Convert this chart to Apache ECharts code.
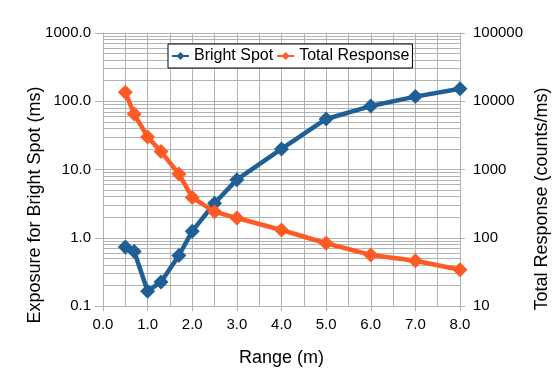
<!DOCTYPE html>
<html>
<head>
<meta charset="utf-8">
<script src="https://cdn.jsdelivr.net/npm/echarts@6/dist/echarts.min.js"></script>
<style>html,body{margin:0;padding:0;background:#fff;}#c{width:557px;height:382px;}</style>
</head>
<body>
<div id="c"></div>
<script>
const rangeM = [0.5, 0.7, 1.0, 1.3, 1.7, 2.0, 2.5, 3.0, 4.0, 5.0, 6.0, 7.0, 8.0];
const brightSpot = [0.73, 0.63, 0.165, 0.225, 0.55, 1.25, 3.2, 7.1, 20, 55, 85, 117, 152];
const totalResponse = [13500, 6500, 3000, 1830, 860, 390, 240, 195, 130, 83, 56, 46, 34];
const seriesNames = ['Bright Spot', 'Total Response'];
const leftDecades = [0.1, 1, 10, 100];
const minorSteps = [2, 3, 4, 5, 6, 7, 8, 9];

const FONT = '"Liberation Sans", Arial, sans-serif';
const GRID = '#b3b3b3';
const BLUE = '#1f5f95';
const ORANGE = '#ff5a23';

const minorLines = [];
leftDecades.forEach(d => minorSteps.forEach(k => minorLines.push({ yAxis: +(d * k).toPrecision(3) })));

const chart = echarts.init(document.getElementById('c'), null, { renderer: 'canvas' });
chart.setOption({
  animation: false,
  backgroundColor: '#fff',
  textStyle: { fontFamily: FONT },
  grid: { left: 103, right: 97, top: 33, bottom: 76, containLabel: false },
  legend: {
    data: seriesNames,
    left: 168, top: 44,
    orient: 'horizontal',
    borderColor: '#000', borderWidth: 1,
    padding: [4, 3, 4, 3],
    itemGap: 3,
    itemWidth: 17, itemHeight: 10,
    backgroundColor: '#fff',
    textStyle: { fontSize: 16, color: '#000', fontFamily: FONT }
  },
  xAxis: {
    type: 'value', min: 0, max: 8, interval: 1,
    name: 'Range (m)', nameLocation: 'middle', nameGap: 43,
    nameTextStyle: { fontSize: 18, color: '#000', fontFamily: FONT },
    axisLine: { show: true, lineStyle: { color: GRID } },
    axisTick: { show: true, length: 5, lineStyle: { color: GRID } },
    axisLabel: { fontSize: 15, color: '#000', margin: 11, formatter: v => v.toFixed(1) },
    splitLine: { show: true, lineStyle: { color: GRID } },
    minorTick: { show: false, splitNumber: 2 },
    minorSplitLine: { show: true, lineStyle: { color: GRID } }
  },
  yAxis: [
    {
      type: 'log', logBase: 10, min: 0.1, max: 1000, position: 'left',
      axisLine: { show: true, lineStyle: { color: GRID } },
      axisTick: { show: true, length: 8, lineStyle: { color: GRID } },
      axisLabel: { fontSize: 15, color: '#000', margin: 12, formatter: v => Number(v).toFixed(1) },
      splitLine: { show: true, lineStyle: { color: GRID } }
    },
    {
      type: 'log', logBase: 10, min: 10, max: 100000, position: 'right',
      axisLine: { show: true, lineStyle: { color: GRID } },
      axisTick: { show: true, length: 5, lineStyle: { color: GRID } },
      axisLabel: { fontSize: 15, color: '#000', margin: 13, formatter: v => String(Math.round(v)) },
      splitLine: { show: false }
    }
  ],
  graphic: [
    { type: 'text', x: 35, y: 205, rotation: Math.PI / 2,
      style: { text: 'Exposure for Bright Spot (ms)', x: 0, y: 0, align: 'center', verticalAlign: 'middle', textAlign: 'center', textVerticalAlign: 'middle', font: '18px ' + FONT, fill: '#000' } },
    { type: 'text', x: 542, y: 199, rotation: Math.PI / 2,
      style: { text: 'Total Response (counts/ms)', x: 0, y: 0, align: 'center', verticalAlign: 'middle', textAlign: 'center', textVerticalAlign: 'middle', font: '18px ' + FONT, fill: '#000' } }
  ],
  series: [
    {
      name: 'gridMinor', type: 'line', yAxisIndex: 0, data: [], silent: true, z: 1,
      markLine: {
        silent: true, symbol: 'none', z: 1, animation: false,
        label: { show: false },
        lineStyle: { color: GRID, type: 'solid', width: 1 },
        emphasis: { disabled: true },
        data: minorLines
      }
    },
    {
      name: seriesNames[0], type: 'line', yAxisIndex: 0,
      data: rangeM.map((x, i) => [x, brightSpot[i]]),
      symbol: 'diamond', symbolSize: 15,
      lineStyle: { color: BLUE, width: 4.5 },
      itemStyle: { color: BLUE },
      z: 3
    },
    {
      name: seriesNames[1], type: 'line', yAxisIndex: 1,
      data: rangeM.map((x, i) => [x, totalResponse[i]]),
      symbol: 'diamond', symbolSize: 15,
      lineStyle: { color: ORANGE, width: 4.5 },
      itemStyle: { color: ORANGE },
      z: 3
    }
  ]
});
</script>
</body>
</html>
